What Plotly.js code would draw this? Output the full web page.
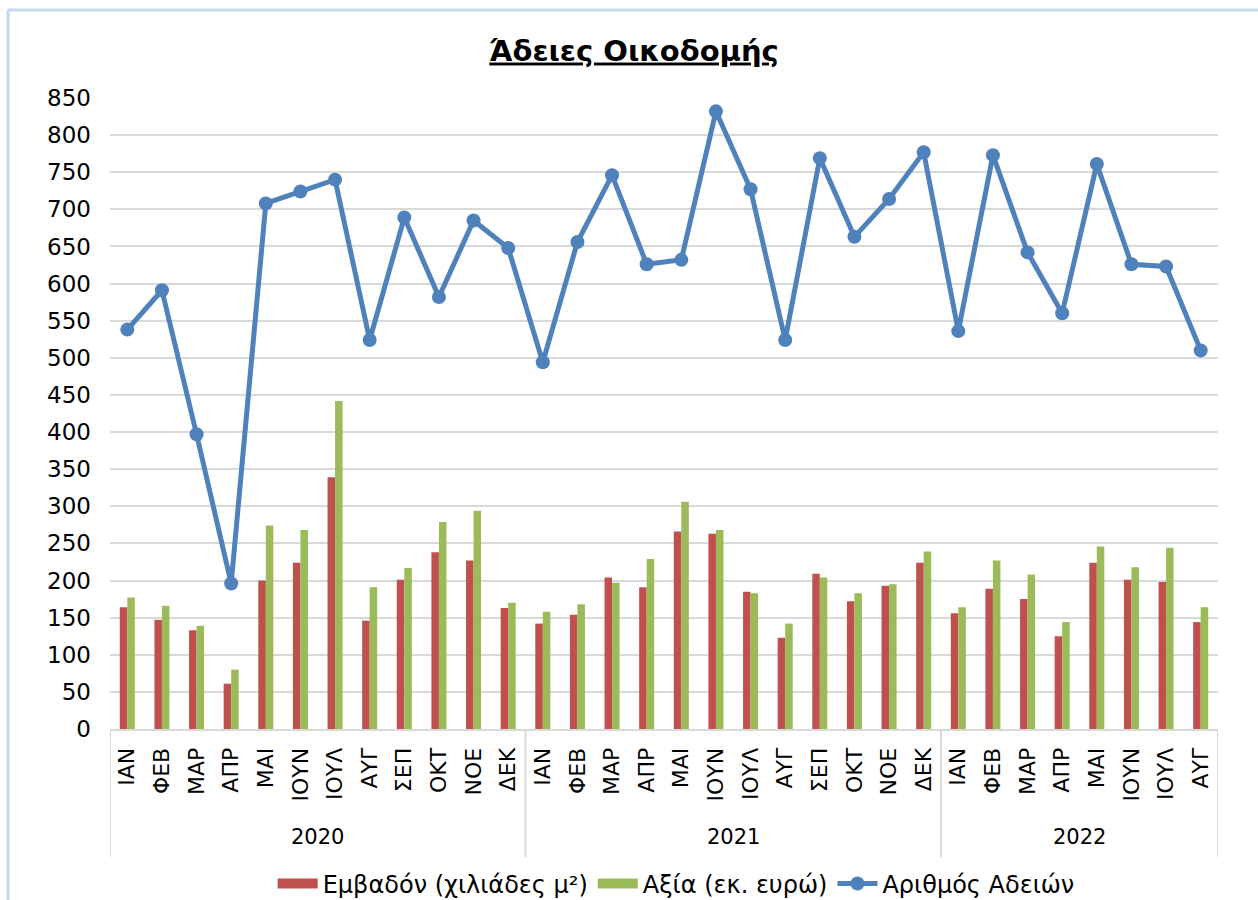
<!DOCTYPE html>
<html>
<head>
<meta charset="utf-8">
<script src="https://cdn.plot.ly/plotly-3.0.1.min.js"></script>
<style>html,body{margin:0;padding:0;background:#fff;}#chart{width:1258px;height:900px;}</style>
</head>
<body>
<div id="chart"></div>
<script>
const years = ["2020", "2021", "2022"];
const months = [
  "ΙΑΝ","ΦΕΒ","ΜΑΡ","ΑΠΡ","ΜΑΙ","ΙΟΥΝ","ΙΟΥΛ","ΑΥΓ","ΣΕΠ","ΟΚΤ","ΝΟΕ","ΔΕΚ",
  "ΙΑΝ","ΦΕΒ","ΜΑΡ","ΑΠΡ","ΜΑΙ","ΙΟΥΝ","ΙΟΥΛ","ΑΥΓ","ΣΕΠ","ΟΚΤ","ΝΟΕ","ΔΕΚ",
  "ΙΑΝ","ΦΕΒ","ΜΑΡ","ΑΠΡ","ΜΑΙ","ΙΟΥΝ","ΙΟΥΛ","ΑΥΓ"
];
const monthsPerYear = [12, 12, 8];
const area = [
  164,147,133,61,200,224,339,146,201,238,227,163,
  142,154,204,191,266,263,185,123,209,172,193,224,
  156,189,175,125,224,201,198,144
];
const value = [
  177,166,139,80,274,268,442,191,217,279,294,170,
  158,168,197,229,306,268,183,142,204,183,195,239,
  164,227,208,144,246,218,244,164
];
const permits = [
  538,591,397,196,708,724,740,524,689,582,685,648,
  494,656,746,626,632,832,727,524,769,663,714,777,
  536,773,642,560,761,626,623,510
];
const seriesNames = ["Εμβαδόν (χιλιάδες μ²)", "Αξία (εκ. ευρώ)", "Αριθμός Αδειών"];
const seriesColors = ["#C0504D", "#9BBB59", "#4F81BD"];
const titleText = "Άδειες Οικοδομής";

const idx = months.map((_, i) => i);
const FONT = "DejaVu Sans, Verdana, sans-serif";

const traces = [
  {type: "bar", x: idx, y: area, name: seriesNames[0], showlegend: false,
   marker: {color: seriesColors[0], line: {width: 0}}},
  {type: "bar", x: idx, y: value, name: seriesNames[1], showlegend: false,
   marker: {color: seriesColors[1], line: {width: 0}}},
  // legend-only entries for the bar series (wide rectangular swatches)
  {type: "scatter", mode: "lines", x: [null], y: [null], name: seriesNames[0],
   line: {color: seriesColors[0], width: 10}},
  {type: "scatter", mode: "lines", x: [null], y: [null], name: seriesNames[1],
   line: {color: seriesColors[1], width: 10}},
  {type: "scatter", mode: "lines+markers", x: idx, y: permits, name: seriesNames[2],
   line: {color: seriesColors[2], width: 5}, marker: {color: seriesColors[2], size: 14}}
];

// group boundaries and year labels
const shapes = [];
const annotations = [];
let start = 0;
const bounds = [-0.5];
monthsPerYear.forEach((n, k) => {
  const mid = start + (n - 1) / 2;
  annotations.push({x: mid, xref: "x", y: -0.171, yref: "paper", text: years[k],
    showarrow: false, font: {family: FONT, size: 21, color: "#000"}, yanchor: "middle"});
  start += n;
  bounds.push(start - 0.5);
});
bounds.forEach(b => {
  shapes.push({type: "line", xref: "x", yref: "paper", x0: b, x1: b, y0: 0, y1: -0.203,
    line: {color: "#D9D9D9", width: 2}});
});
// outer chart border (top and left)
shapes.push({type: "line", xref: "paper", yref: "paper", x0: -0.092, x1: 1.1, y0: 1.1395, y1: 1.1395,
  line: {color: "#C5D9F1", width: 3}});
shapes.push({type: "line", xref: "paper", yref: "paper", x0: -0.092, x1: -0.092, y0: 1.1395, y1: -0.35,
  line: {color: "#C5D9F1", width: 3}});

const layout = {
  width: 1258, height: 900,
  margin: {l: 110, r: 40, t: 98, b: 171, autoexpand: false},
  paper_bgcolor: "#fff", plot_bgcolor: "#fff",
  font: {family: FONT, color: "#000"},
  title: {text: "<b><u>" + titleText + "</u></b>", font: {family: FONT, size: 29, color: "#000"},
    x: 0.473, xref: "paper", xanchor: "center", y: 0.944, yref: "container", yanchor: "middle"},
  barmode: "group", bargap: 0.566, bargroupgap: 0,
  showlegend: true,
  legend: {orientation: "h", x: 0.511, xanchor: "center", y: -0.2456, yanchor: "middle",
    font: {family: FONT, size: 24, color: "#000"}, itemwidth: 40, traceorder: "normal"},
  xaxis: {range: [-0.5, months.length - 0.5], tickmode: "array", tickvals: idx, ticktext: months,
    tickangle: -90, tickfont: {family: FONT, size: 22, color: "#000"}, showgrid: false,
    zeroline: false, showline: true, linecolor: "#D9D9D9", linewidth: 2, ticks: "",
    ticklabelstandoff: 8, automargin: false, fixedrange: true},
  yaxis: {range: [0, 850], dtick: 50, tick0: 0, showgrid: true, gridcolor: "#D9D9D9", gridwidth: 2,
    zeroline: false, showline: false, ticks: "", tickfont: {family: FONT, size: 23, color: "#000"},
    ticklabelstandoff: 18, automargin: false, fixedrange: true},
  shapes: shapes,
  annotations: annotations
};

Plotly.newPlot("chart", traces, layout, {displayModeBar: false, staticPlot: true});
</script>
</body>
</html>
